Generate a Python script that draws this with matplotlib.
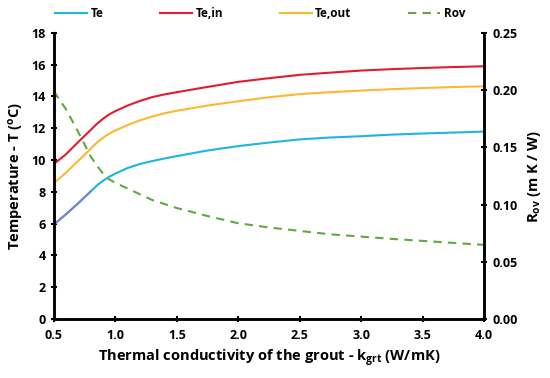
import matplotlib

matplotlib.use("Agg")
import matplotlib.pyplot as plt

FONT = "Open Sans"

# thermal conductivity of the grout (W/mK)
k_grt = [0.5, 0.6, 0.7, 0.8, 0.85, 0.9, 0.95, 1.0, 1.1, 1.2, 1.3, 1.4, 1.5, 1.75, 2.0,
         2.25, 2.5, 2.75, 3.0, 3.25, 3.5, 3.75, 4.0]
te = [5.95, 6.6, 7.3, 8.03, 8.4, 8.7, 8.95, 9.15, 9.5, 9.75, 9.94, 10.1, 10.25, 10.6, 10.88,
      11.1, 11.3, 11.42, 11.5, 11.6, 11.67, 11.73, 11.79]
te_in = [9.75, 10.38, 11.15, 11.9, 12.28, 12.6, 12.87, 13.08, 13.43, 13.72, 13.96, 14.13, 14.27, 14.6, 14.92,
         15.15, 15.36, 15.5, 15.63, 15.72, 15.79, 15.85, 15.9]
te_out = [8.55, 9.22, 9.97, 10.72, 11.1, 11.4, 11.66, 11.86, 12.2, 12.5, 12.74, 12.94, 13.1, 13.43, 13.7,
          13.95, 14.15, 14.27, 14.37, 14.46, 14.53, 14.59, 14.64]
rov = [0.199, 0.183, 0.163, 0.142, 0.134, 0.127, 0.122, 0.119, 0.114, 0.109, 0.104, 0.1005, 0.097, 0.090, 0.0837,
       0.080, 0.077, 0.074, 0.072, 0.070, 0.0683, 0.0665, 0.0648]

x_ticks = [0.5, 1.0, 1.5, 2.0, 2.5, 3.0, 3.5, 4.0]
y_ticks = list(range(0, 19, 2))
r_ticks = [0.00, 0.05, 0.10, 0.15, 0.20, 0.25]

plt.rcParams.update(
    {
        "font.family": FONT,
        "font.weight": "bold",
        "axes.labelweight": "bold",
        "mathtext.fontset": "custom",
        "mathtext.rm": FONT + ":bold",
        "mathtext.it": FONT + ":bold",
        "mathtext.bf": FONT + ":bold",
        "mathtext.default": "bf",
    }
)

fig = plt.figure(figsize=(5.5, 3.78), dpi=100)
ax = fig.add_axes([0.098, 0.156, 0.782, 0.757])
ax2 = ax.twinx()

ax.plot(k_grt, te, color="#1DB6E0", lw=1.5, label="Te")
ax.plot(k_grt[:4], te[:4], color="#7D82D8", lw=1.5)
ax.plot(k_grt, te_in, color="#E41B2A", lw=1.5, label="Te,in")
ax.plot(k_grt, te_out, color="#FDB833", lw=1.5, label="Te,out")
ax2.plot(k_grt, rov, color="#5DAA3F", lw=1.5, ls=(0, (4, 3)), label="Rov")

ax.set_xlim(0.5, 4.0)
ax.set_ylim(0, 18)
ax2.set_ylim(0, 0.25)
ax.set_xticks(x_ticks)
ax.set_xticklabels([f"{v:.1f}" for v in x_ticks])
ax.set_yticks(y_ticks)
ax2.set_yticks(r_ticks)
ax2.set_yticklabels([f"{v:.2f}" for v in r_ticks])

for a in (ax, ax2):
    a.spines["top"].set_visible(False)
    for s in ("left", "right", "bottom"):
        a.spines[s].set_linewidth(1.8)
    a.tick_params(direction="inout", length=5, width=1.5, labelsize=9, colors="black")
ax.tick_params(axis="x", pad=5)

ax.set_xlabel("Thermal conductivity of the grout - k$_{grt}$ (W/mK)", fontsize=10.5, labelpad=4)
ax.set_ylabel("Temperature - T ($^{o}$C)", fontsize=10.5, labelpad=4)
ax2.set_ylabel("R$_{ov}$ (m K / W)", fontsize=10.5, labelpad=6)

h1, l1 = ax.get_legend_handles_labels()
h2, l2 = ax2.get_legend_handles_labels()
fig.legend(h1 + h2, l1 + l2, loc="upper center", bbox_to_anchor=(0.473, 1.01), ncol=4,
           frameon=False, fontsize=8.5, handlelength=2.7, handletextpad=0.3,
           columnspacing=4.8)

fig.savefig("out.png", dpi=100)
